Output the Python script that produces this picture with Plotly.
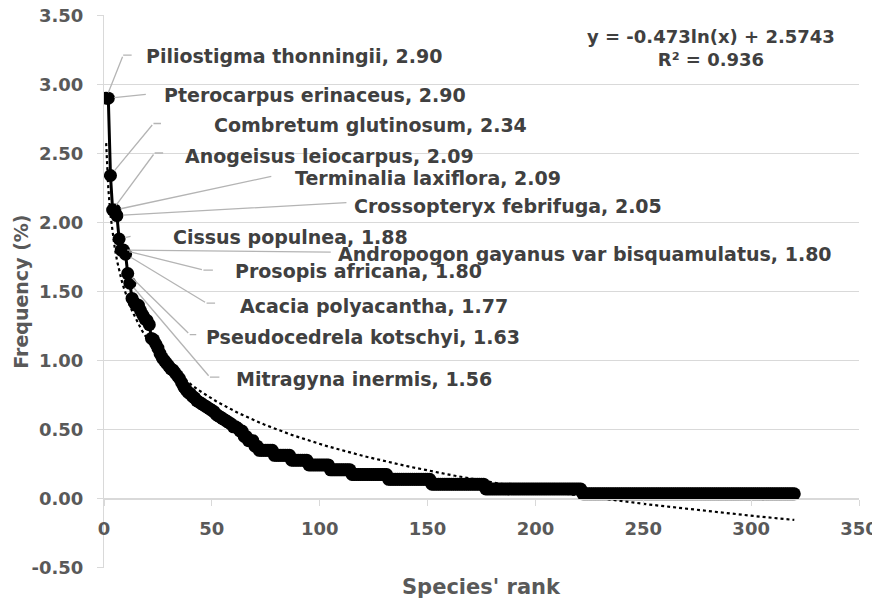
import math
import plotly.graph_objects as go

# ---------------- data ----------------
freq = [
    2.90, 2.90, 2.34, 2.09, 2.09, 2.05, 1.88, 1.80, 1.80, 1.77,
    1.63, 1.56, 1.45, 1.42, 1.40, 1.40, 1.36, 1.33, 1.30, 1.29,
    1.26, 1.16, 1.15, 1.12, 1.09, 1.05, 1.02, 1.00, 0.98, 0.96,
    0.94, 0.93, 0.91, 0.89, 0.87, 0.84, 0.81, 0.79, 0.77, 0.76,
    0.74, 0.73, 0.71, 0.70, 0.69, 0.68, 0.67, 0.66, 0.65, 0.64,
    0.63, 0.61, 0.60, 0.59, 0.58, 0.57, 0.56, 0.55, 0.54, 0.52,
    0.52, 0.51, 0.49, 0.49, 0.45, 0.45, 0.42, 0.42, 0.42, 0.38,
    0.38, 0.35, 0.35, 0.35, 0.35, 0.35, 0.35, 0.35, 0.314, 0.314,
    0.314, 0.314, 0.314, 0.314, 0.314, 0.314, 0.279, 0.279, 0.279, 0.279,
    0.279, 0.279, 0.279, 0.279, 0.244, 0.244, 0.244, 0.244, 0.244, 0.244,
    0.244, 0.244, 0.244, 0.244, 0.209, 0.209, 0.209, 0.209, 0.209, 0.209,
    0.209, 0.209, 0.209, 0.209, 0.175, 0.175, 0.175, 0.175, 0.175, 0.175,
    0.175, 0.175, 0.175, 0.175, 0.175, 0.175, 0.175, 0.175, 0.175, 0.175,
    0.175, 0.140, 0.140, 0.140, 0.140, 0.140, 0.140, 0.140, 0.140, 0.140,
    0.140, 0.140, 0.140, 0.140, 0.140, 0.140, 0.140, 0.140, 0.140, 0.140,
    0.140, 0.105, 0.105, 0.105, 0.105, 0.105, 0.105, 0.105, 0.105, 0.105,
    0.105, 0.105, 0.105, 0.105, 0.105, 0.105, 0.105, 0.105, 0.105, 0.105,
    0.105, 0.105, 0.105, 0.105, 0.105, 0.105, 0.070, 0.070, 0.070, 0.070,
    0.070, 0.070, 0.070, 0.070, 0.070, 0.070, 0.070, 0.070, 0.070, 0.070,
    0.070, 0.070, 0.070, 0.070, 0.070, 0.070, 0.070, 0.070, 0.070, 0.070,
    0.070, 0.070, 0.070, 0.070, 0.070, 0.070, 0.070, 0.070, 0.070, 0.070,
    0.070, 0.070, 0.070, 0.070, 0.070, 0.070, 0.070, 0.070, 0.070, 0.070,
    0.070, 0.035, 0.035, 0.035, 0.035, 0.035, 0.035, 0.035, 0.035, 0.035,
    0.035, 0.035, 0.035, 0.035, 0.035, 0.035, 0.035, 0.035, 0.035, 0.035,
    0.035, 0.035, 0.035, 0.035, 0.035, 0.035, 0.035, 0.035, 0.035, 0.035,
    0.035, 0.035, 0.035, 0.035, 0.035, 0.035, 0.035, 0.035, 0.035, 0.035,
    0.035, 0.035, 0.035, 0.035, 0.035, 0.035, 0.035, 0.035, 0.035, 0.035,
    0.035, 0.035, 0.035, 0.035, 0.035, 0.035, 0.035, 0.035, 0.035, 0.035,
    0.035, 0.035, 0.035, 0.035, 0.035, 0.035, 0.035, 0.035, 0.035, 0.035,
    0.035, 0.035, 0.035, 0.035, 0.035, 0.035, 0.035, 0.035, 0.035, 0.035,
    0.035, 0.035, 0.035, 0.035, 0.035, 0.035, 0.035, 0.035, 0.035, 0.035,
    0.035, 0.035, 0.035, 0.035, 0.035, 0.035, 0.035, 0.035, 0.035, 0.035,
]
ranks = list(range(1, len(freq) + 1))

label_species = [
    "Piliostigma thonningii", "Pterocarpus erinaceus", "Combretum glutinosum",
    "Anogeisus leiocarpus", "Terminalia laxiflora", "Crossopteryx febrifuga",
    "Cissus populnea", "Andropogon gayanus var bisquamulatus", "Prosopis africana",
    "Acacia polyacantha", "Pseudocedrela kotschyi", "Mitragyna inermis",
]
label_values = [2.90, 2.90, 2.34, 2.09, 2.09, 2.05, 1.88, 1.80, 1.80, 1.77, 1.63, 1.56]
label_ranks = [1, 2, 3, 4, 5, 6, 7, 8, 9, 10, 11, 12]

trend_slope = -0.473
trend_intercept = 2.5743
trend_r2 = 0.936

y_ticks = [-0.5, 0.0, 0.5, 1.0, 1.5, 2.0, 2.5, 3.0, 3.5]
x_ticks = [0, 50, 100, 150, 200, 250, 300, 350]

# ---------------- style / layout config ----------------
FONT = "DejaVu Sans"
TICK_COL = "#595959"
LABEL_COL = "#404040"
GRID_COL = "#d9d9d9"
LEADER_COL = "#b4b4b4"

# leader geometry in pixels relative to the labelled point:
# (elbow dx, elbow dy, horizontal length, text dx, text dy)
LEADERS = [
    (17, -43, 10, 38, -42),
    (39, -4, 0, 54, -3),
    (43, -52, 9, 102, -50),
    (42, -57, 10, 70, -54),
    (158, -34, 0, 178, -32),
    (231, -13, 0, 235, -10),
    (13, -3, 0, 52, -2),
    (211, 2, 0, 215, 4),
    (80, 20, 11, 110, 21),
    (81, 49, 10, 112, 52),
    (62, 61, 8, 76, 63),
    (80, 94, 11, 104, 96),
]

trend_y = [trend_slope * math.log(r) + trend_intercept for r in ranks]

fig = go.Figure()
fig.add_trace(go.Scatter(
    x=ranks, y=freq, mode="lines+markers",
    line=dict(color="black", width=3),
    marker=dict(color="black", size=13, line=dict(width=0)),
    showlegend=False,
))
fig.add_trace(go.Scatter(
    x=ranks, y=trend_y, mode="lines",
    line=dict(color="black", width=2.2, dash="dot"),
    showlegend=False,
))

annotations = []
for name, val, rk, (ex, ey, hl, tx, ty) in zip(label_species, label_values, label_ranks, LEADERS):
    annotations.append(dict(
        x=rk, y=val, xref="x", yref="y", text="", showarrow=True,
        arrowhead=0, arrowwidth=1.3, arrowcolor=LEADER_COL,
        ax=ex, ay=ey, standoff=6,
    ))
    if hl > 0:
        annotations.append(dict(
            x=rk, y=val, xref="x", yref="y", text="", showarrow=True,
            arrowhead=0, arrowwidth=1.3, arrowcolor=LEADER_COL,
            ax=hl, ay=0, xshift=ex, yshift=-ey,
        ))
    annotations.append(dict(
        x=rk, y=val, xref="x", yref="y", showarrow=False,
        text=f"{name}, {val:.2f}", xanchor="left", yanchor="middle",
        xshift=tx, yshift=-ty,
        font=dict(family=FONT, size=19, color=LABEL_COL, weight="bold"),
    ))

annotations.append(dict(
    xref="paper", yref="paper", x=0.804, y=0.94, showarrow=False,
    text=f"y = {trend_slope}ln(x) + {trend_intercept}<br>R² = {trend_r2}",
    align="center", xanchor="center", yanchor="middle",
    font=dict(family=FONT, size=18, color=LABEL_COL, weight="bold"),
))
annotations.append(dict(
    xref="paper", yref="paper", x=0.5, y=-0.034, showarrow=False,
    text="Species' rank", xanchor="center", yanchor="middle",
    font=dict(family=FONT, size=21, color=TICK_COL, weight="bold"),
))
annotations.append(dict(
    xref="paper", yref="paper", x=-0.111, y=0.5, showarrow=False,
    text="Frequency (%)", textangle=-90, xanchor="center", yanchor="middle",
    font=dict(family=FONT, size=19, color=TICK_COL, weight="bold"),
))

fig.update_layout(
    width=880, height=600,
    margin=dict(l=96, r=29, t=7, b=40, autoexpand=False),
    plot_bgcolor="white", paper_bgcolor="white",
    annotations=annotations,
    xaxis=dict(
        range=[0, 350], tickvals=x_ticks, ticktext=[str(t) for t in x_ticks],
        anchor="free", position=0.125, automargin=False,
        showline=True, linecolor=GRID_COL, linewidth=1,
        ticks="outside", ticklen=6, tickcolor=GRID_COL,
        showgrid=False, zeroline=False, ticklabeloverflow="allow",
        tickfont=dict(family=FONT, size=18, color=TICK_COL, weight="bold"),
        ticklabelstandoff=8,
    ),
    yaxis=dict(
        range=[-0.502, 3.502], tickvals=y_ticks, ticktext=[f"{t:.2f}" for t in y_ticks],
        automargin=False, ticklabeloverflow="allow",
        showline=True, linecolor=GRID_COL, linewidth=1,
        ticks="outside", ticklen=6, tickcolor=GRID_COL,
        showgrid=True, gridcolor=GRID_COL, gridwidth=1, zeroline=False,
        tickfont=dict(family=FONT, size=18, color=TICK_COL, weight="bold"),
        ticklabelstandoff=10,
    ),
)

fig.write_html("out.html")
